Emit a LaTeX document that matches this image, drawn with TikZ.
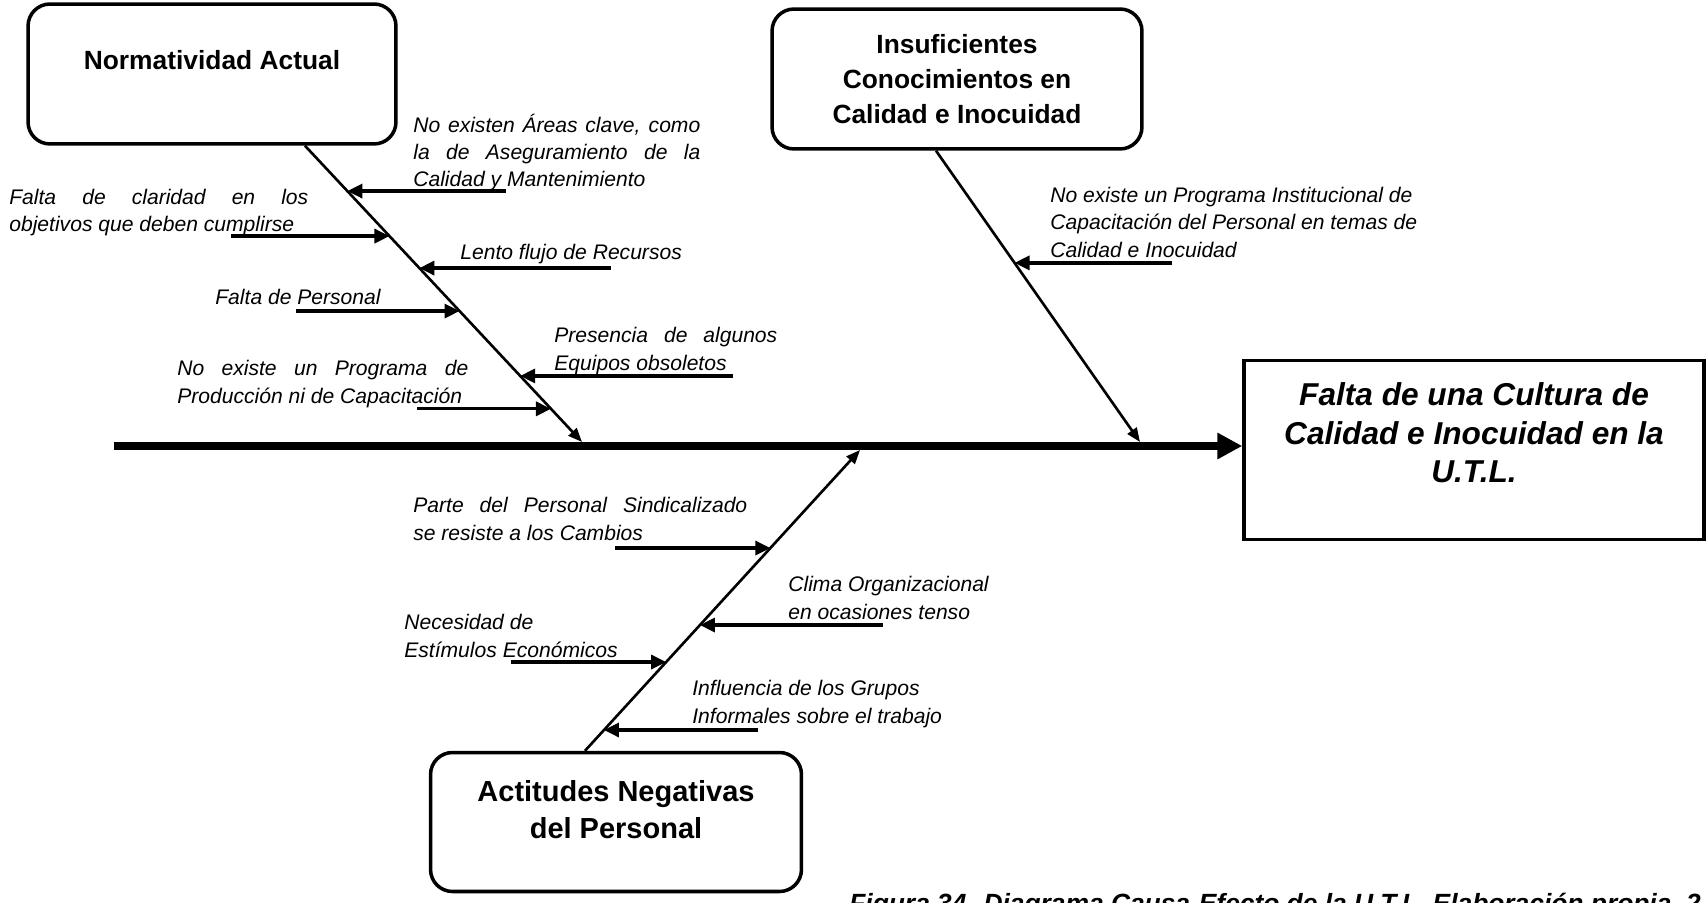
\documentclass[tikz,border=0pt]{standalone}
\usepackage{fontspec}
\setmainfont{Liberation Sans}
\usetikzlibrary{arrows.meta,calc}

\newcommand{\jline}[2]{\makebox[#1][s]{#2}}

\begin{document}
\begin{tikzpicture}[x=0.02cm,y=-0.02cm,
	causebox/.style={draw,line width=2pt,rounded corners=0.44cm,inner sep=0pt},
	effectbox/.style={draw,line width=2pt,inner sep=0pt,minimum width=9.2cm,minimum height=3.58cm},
	boxtext/.style={font=\bfseries\fontsize{15}{19.9}\selectfont,align=center},
	note/.style={font=\itshape\fontsize{12}{15.4}\selectfont,align=left,anchor=base west,inner sep=0pt},
	spine/.style={line width=4pt,-{Triangle[length=0.5cm,width=0.5cm]}},
	bone/.style={line width=1.5pt,-{Triangle[length=0.28cm,width=0.22cm]}},
	twig/.style={line width=1.9pt,-{Triangle[length=0.3cm,width=0.28cm]}}]
	\useasboundingbox (0,0) rectangle (1706,902);

	\node[causebox,minimum width=7.36cm,minimum height=2.8cm] (norm) at (212,74) {};
	\node[boxtext] (normtxt) at (212,60) {Normatividad Actual};
	\node[causebox,minimum width=7.4cm,minimum height=2.8cm] (insuf) at (957,79) {};
	\node[boxtext] (insuftxt) at (957,79) {Insuficientes\\Conocimientos en\\Calidad e Inocuidad};
	\node[causebox,minimum width=7.42cm,minimum height=2.78cm] (actit) at (616,822) {};
	\node[boxtext,font=\bfseries\fontsize{16.5}{21}\selectfont] (actittxt) at (616,810) {Actitudes Negativas\\del Personal};
	\node[effectbox] (effect) at (1474,450) {};
	\node[font=\bfseries\itshape\fontsize{18}{21.9}\selectfont,align=center] (effecttxt) at (1474,433) {Falta de una Cultura de\\Calidad e Inocuidad en la\\U.T.L.};

	\coordinate (tail) at (114,446);
	\draw[spine] (tail) -- (tail -| effect.west);

	\coordinate (t1) at ([xshift=1.86cm]norm.south);
	\coordinate (h1) at (582,442);
	\coordinate (t2) at ([xshift=-0.42cm]insuf.south);
	\coordinate (h2) at (1140,442);
	\coordinate (t3) at ([xshift=-0.62cm]actit.north);
	\coordinate (h3) at (860,450);
	\draw[bone] (t1) -- (h1);
	\draw[bone] (t2) -- (h2);
	\draw[bone] (t3) -- (h3);

	\foreach \f/\x in {0.153/506,0.305/231,0.413/611,0.558/296,0.777/733,0.888/417}{
		\path ($(t1)!\f!(h1)$) coordinate (p);
		\draw[twig] (p -| \x,0) -- (p);
	}
	\path ($(t2)!0.385!(h2)$) coordinate (p);
	\draw[twig] (p -| 1172,0) -- (p);
	\foreach \f/\x in {0.674/615,0.418/883,0.295/511,0.069/758}{
		\path ($(t3)!\f!(h3)$) coordinate (p);
		\draw[twig] (p -| \x,0) -- (p);
	}

	\node[note] (n1) at (413,187) {\jline{5.74cm}{No existen Áreas clave, como}\\\jline{5.74cm}{la de Aseguramiento de la}\\Calidad y Mantenimiento};
	\node[note] (n2) at (9,232) {\jline{5.98cm}{Falta de claridad en los}\\objetivos que deben cumplirse};
	\node[note] (n3) at (460,259) {Lento flujo de Recursos};
	\node[note] (n4) at (215,304) {Falta de Personal};
	\node[note] (n5) at (554,370) {\jline{4.46cm}{Presencia de algunos}\\Equipos obsoletos};
	\node[note] (n6) at (177,403) {\jline{5.82cm}{No existe un Programa de}\\Producción ni de Capacitación};
	\node[note] (n7) at (1050,257) {No existe un Programa Institucional de\\Capacitación del Personal en temas de\\Calidad e Inocuidad};
	\node[note] (n8) at (413,540) {\jline{6.68cm}{Parte del Personal Sindicalizado}\\se resiste a los Cambios};
	\node[note] (n9) at (788,619) {Clima Organizacional\\en ocasiones tenso};
	\node[note] (n10) at (404,657) {Necesidad de\\Estímulos Económicos};
	\node[note] (n11) at (692,723) {Influencia de los Grupos\\Informales sobre el trabajo};

	\node[font=\bfseries\itshape\fontsize{15}{18}\selectfont,anchor=base west,inner sep=0pt] (caption) at (849,912) {Figura 34. Diagrama Causa-Efecto de la U.T.L. Elaboración propia, 2};
\end{tikzpicture}
\end{document}
